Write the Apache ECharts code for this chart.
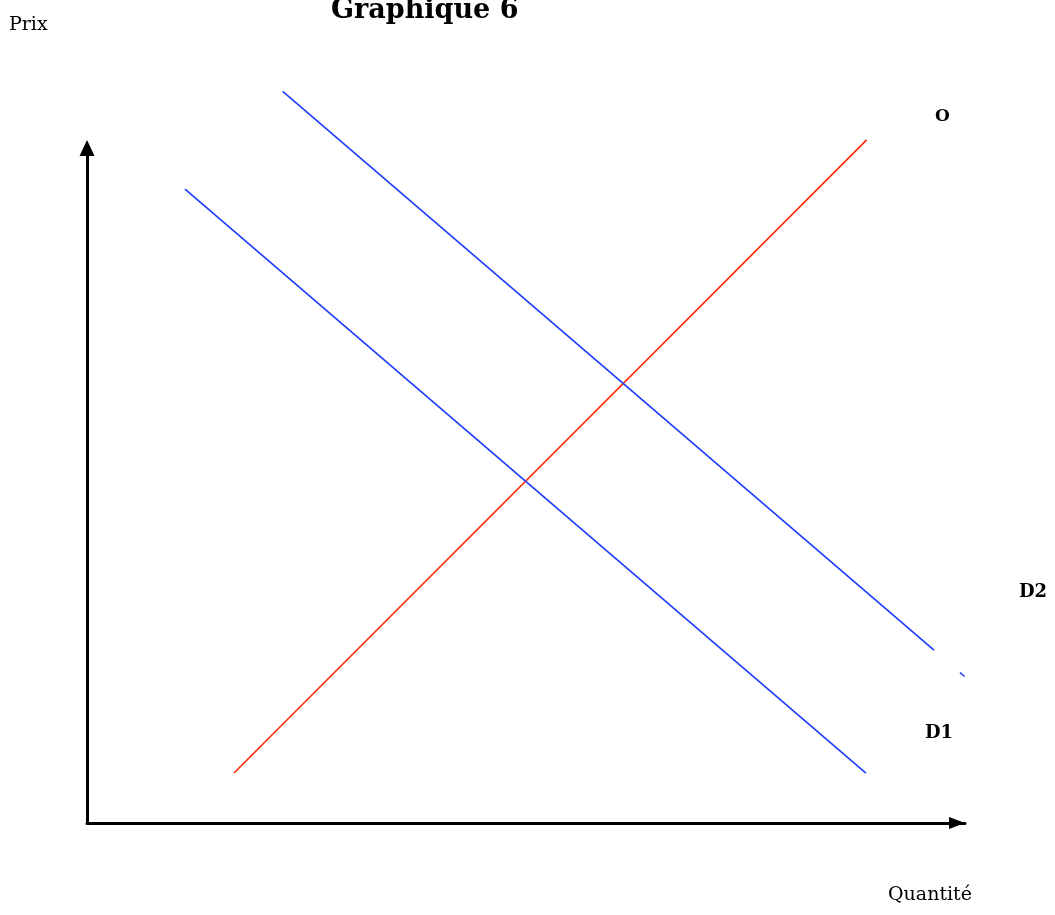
<!DOCTYPE html>
<html>
<head>
<meta charset="utf-8">
<script src="https://cdn.jsdelivr.net/npm/echarts@6/dist/echarts.min.js"></script>
<style>html,body{margin:0;padding:0;background:#fff}#c{width:1055px;height:915px}</style>
</head>
<body>
<div id="c"></div>
<script>
// Curves as [quantity, price] points
const offreO = [[16.74, 7.4], [88.8, 101.2]];
const demandeD1 = [[11.16, 93.9], [88.72, 7.4]];
const demandeD2 = [[22.29, 108.4], [96.47, 25.6]];
const demandeD2Fragment = [[99.43, 22.3], [99.95, 21.7]];
const curveLabels = ['O', 'D1', 'D2'];
const titleText = 'Graphique 6';
const yName = 'Prix';
const xName = 'Quantité';

const serif = '"DejaVu Serif", "Liberation Serif", serif';
const chart = echarts.init(document.getElementById('c'));
function txt(x, y, text, font) {
  return { type: 'text', x: x, y: y, style: { text: text, font: font, fill: '#000', align: 'left', verticalAlign: 'middle' } };
}
chart.setOption({
  backgroundColor: '#fff',
  animation: false,
  grid: { left: 87, top: 148, width: 878, height: 675 },
  xAxis: {
    type: 'value', min: 0, max: 100,
    axisLine: { show: true, lineStyle: { color: '#000', width: 3 }, symbol: ['none', 'triangle'], symbolSize: [12, 16], symbolOffset: [0, -8], onZero: false },
    axisTick: { show: false }, axisLabel: { show: false }, splitLine: { show: false }
  },
  yAxis: {
    type: 'value', min: 0, max: 100,
    axisLine: { show: true, lineStyle: { color: '#000', width: 3 }, symbol: ['none', 'triangle'], symbolSize: [15, 16], onZero: false },
    axisTick: { show: false }, axisLabel: { show: false }, splitLine: { show: false }
  },
  series: [
    { name: curveLabels[0], type: 'line', data: offreO, showSymbol: false, clip: false,
      lineStyle: { color: '#ff2a00', width: 1.6 } },
    { name: curveLabels[1], type: 'line', data: demandeD1, showSymbol: false, clip: false,
      lineStyle: { color: '#1a3cff', width: 1.6 } },
    { name: curveLabels[2], type: 'line', data: demandeD2, showSymbol: false, clip: false,
      lineStyle: { color: '#1a3cff', width: 1.6 } },
    { name: curveLabels[2] + ' (fragment)', type: 'line', data: demandeD2Fragment, showSymbol: false, clip: false,
      lineStyle: { color: '#1a3cff', width: 1.6 } }
  ],
  graphic: [
    txt(331, 11, titleText, 'bold 27px ' + serif),
    txt(9, 25, yName, '19px ' + serif),
    txt(888, 895, xName, '19px ' + serif),
    txt(935, 117, curveLabels[0], 'bold 17px ' + serif),
    txt(925, 733, curveLabels[1], 'bold 18px ' + serif),
    txt(1019, 592, curveLabels[2], 'bold 18px ' + serif)
  ]
});
</script>
</body>
</html>
